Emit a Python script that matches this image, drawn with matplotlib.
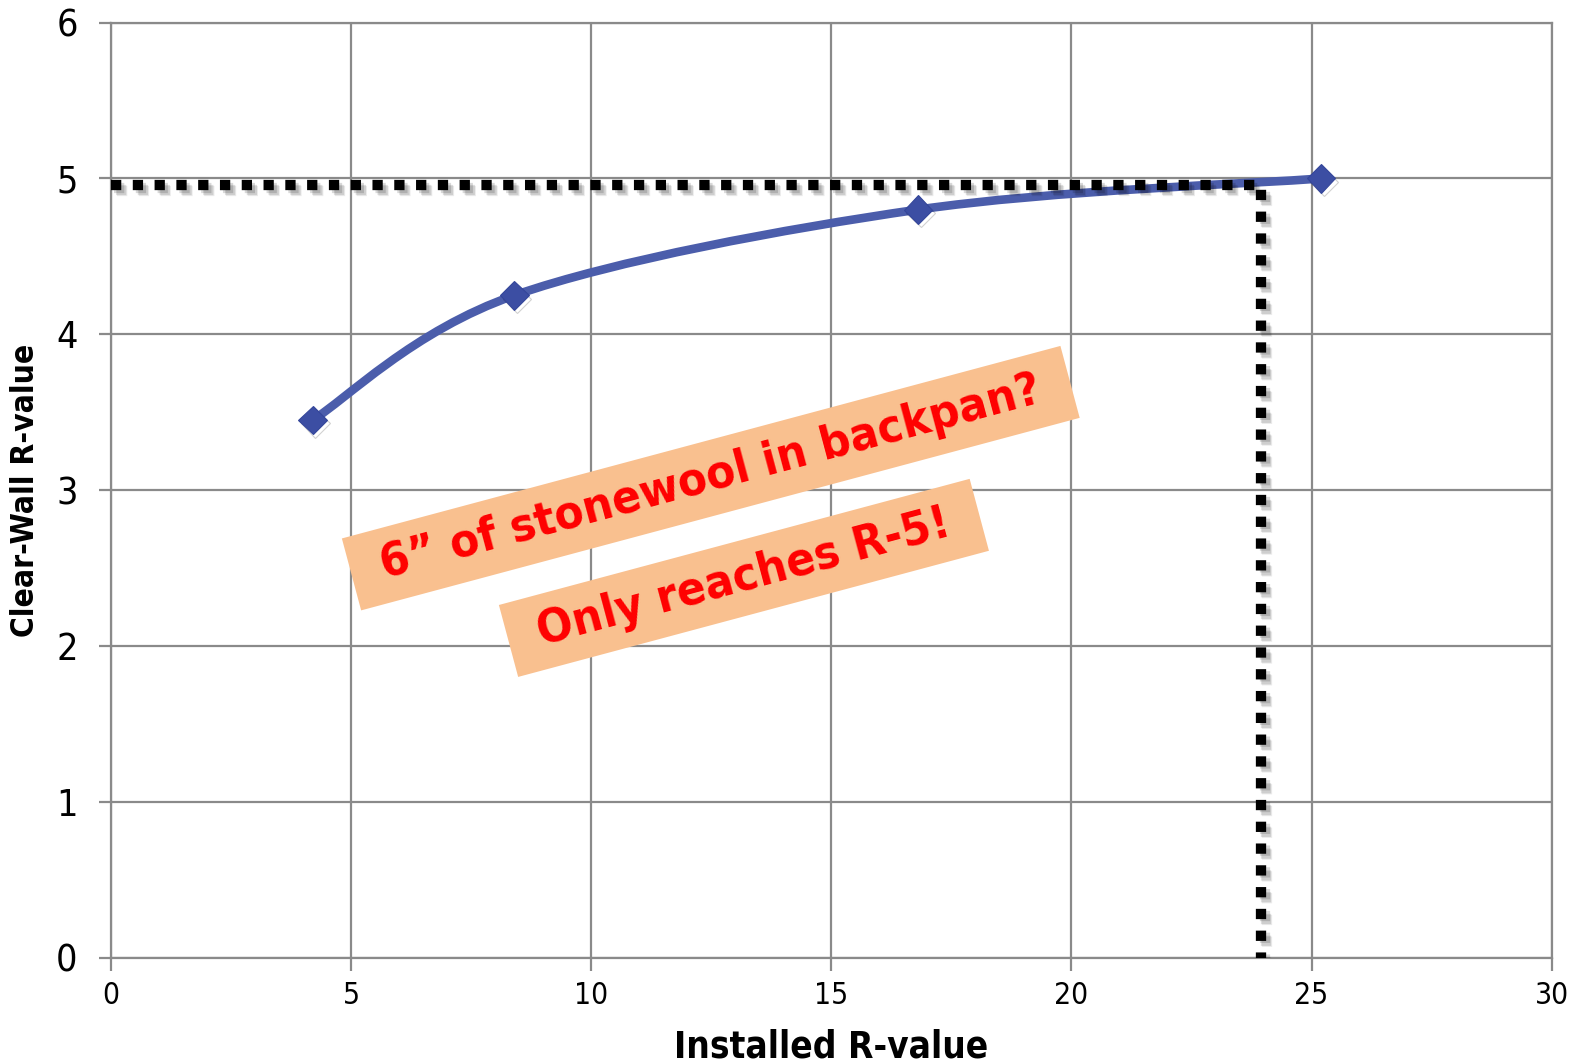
import numpy as np
import matplotlib
matplotlib.use("Agg")
import matplotlib.pyplot as plt
from matplotlib.path import Path
from matplotlib.patches import PathPatch
import matplotlib.patheffects as pe

# Installed vs. clear-wall R-value
installed_r = [4.2, 8.4, 16.8, 25.2]
clear_wall_r = [3.45, 4.25, 4.80, 5.00]

# Reference guide: R-5 reached near R-24 installed
guide_x = [0, 23.95, 23.95]
guide_y = [4.96, 4.96, 0]

x_ticks = [0, 5, 10, 15, 20, 25, 30]
y_ticks = [0, 1, 2, 3, 4, 5, 6]

note_top = "6\u201d of stonewool in backpan?"
note_bottom = "Only reaches R-5!"

plt.rcParams["font.family"] = ["DejaVu Sans"]

fig = plt.figure(figsize=(15.83, 10.63), dpi=100)
ax = fig.add_axes([0.0701, 0.0991, 0.9101, 0.8796])
ax.set_xlim(0, 30)
ax.set_ylim(0, 6)

grid_c = "#8a8a8a"
ax.set_xticks(x_ticks)
ax.set_yticks(y_ticks)
ax.grid(True, color=grid_c, linewidth=1.6, zorder=0)
ax.set_axisbelow(True)
for s in ax.spines.values():
    s.set_color(grid_c)
    s.set_linewidth(1.6)
ax.tick_params(axis="both", direction="out", length=9, width=1.6, color=grid_c)
ax.tick_params(axis="y", pad=15, labelsize=27)
ax.tick_params(axis="x", pad=8, labelsize=21.5)
for lab in ax.get_xticklabels() + ax.get_yticklabels():
    lab.set_fontstretch("condensed")

# Smoothed series drawn as cubic Bezier segments through the points
pts = np.column_stack([installed_r, clear_wall_r])
n = len(pts)
verts = [pts[0]]
codes = [Path.MOVETO]
for i in range(n - 1):
    p0 = pts[i - 1] if i > 0 else pts[i]
    p1 = pts[i]
    p2 = pts[i + 1]
    p3 = pts[i + 2] if i + 2 < n else pts[i + 1]
    verts += [p1 + (p2 - p0) / 6.0, p2 - (p3 - p1) / 6.0, p2]
    codes += [Path.CURVE4] * 3
curve = PathPatch(Path(verts, codes), facecolor="none", edgecolor="#4b5dab",
                  linewidth=6.2, capstyle="round", joinstyle="round", zorder=3)
ax.add_patch(curve)
ax.plot(installed_r, clear_wall_r, linestyle="none", marker="D", markersize=14.5,
        markerfacecolor="#3c4ea3", markeredgecolor="#34469a", markeredgewidth=0.8,
        zorder=4,
        path_effects=[pe.SimpleLineShadow(offset=(2, -2.5), shadow_color="k", alpha=0.18),
                      pe.Normal()])

# Dotted guide with soft drop shadow
shadow = [pe.SimpleLineShadow(offset=(off, -off), shadow_color="k", alpha=a)
          for off, a in [(4.5, 0.08), (3.5, 0.12), (2.5, 0.15)]]
ax.plot(guide_x, guide_y, color="black", linewidth=7.4, dashes=(1.0, 1.12),
        dash_capstyle="butt", solid_joinstyle="miter", zorder=5,
        path_effects=shadow + [pe.Normal()])

box_style = dict(boxstyle="square,pad=0.65", facecolor="#f9c08f", edgecolor="none",
                 mutation_aspect=0.48)
note_kw = dict(rotation=15, rotation_mode="anchor", ha="center", va="center",
               fontsize=34, fontweight="bold", fontstretch="condensed",
               color="#ff0000", bbox=box_style, zorder=6)
ax.text(12.49, 3.077, note_top, **note_kw)
ax.text(13.18, 2.437, note_bottom, **note_kw)

ax.set_xlabel("Installed R-value", fontsize=26.5, fontweight="bold",
              fontstretch="condensed", va="baseline")
ax.xaxis.set_label_coords(0.5, -0.1065)
ax.set_ylabel("Clear-Wall R-value", fontsize=22.8, fontweight="bold",
              fontstretch="condensed", va="center")
ax.yaxis.set_label_coords(-0.0593, 0.50)

fig.savefig("out.png", dpi=100, facecolor="white")
